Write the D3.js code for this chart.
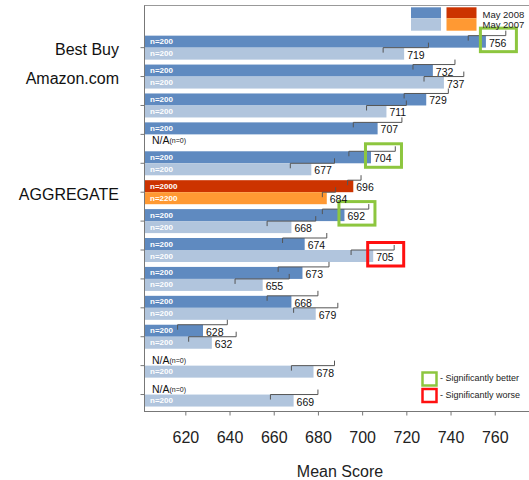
<!DOCTYPE html>
<html><head><meta charset="utf-8">
<script src="https://cdn.jsdelivr.net/npm/d3@7"></script>
<style>body{margin:0;background:#fff}svg{display:block;font-family:"Liberation Sans",Arial,sans-serif}</style>
</head><body><svg id="c" width="529" height="480"></svg>
<script>
const categories = ["Best Buy","Amazon.com","","","","AGGREGATE","","","","","","",""];
const may2008 = [756,732,729,707,704,696,692,674,673,668,628,null,null];
const may2007 = [719,737,711,null,677,684,668,705,655,679,632,678,669];
const ci2008Lo = [748,723,719,696,694,693.4,682,664,662,657,616.5,null,null];
const ci2008Hi = [765,742,739,718,715,699.5,703,684,685,680,639,null,null];
const ci2007Lo = [709.5,728,702,null,667.5,682,657,695,642.5,669,621.5,668,658.5];
const ci2007Hi = [730,746,720,null,687.5,688,679,714.5,667,689,643,687.5,680];
const n2008 = ["n=200","n=200","n=200","n=200","n=200","n=2000","n=200","n=200","n=200","n=200","n=200","n=0","n=0"];
const n2007 = ["n=200","n=200","n=200","n=0","n=200","n=2200","n=200","n=200","n=200","n=200","n=200","n=200","n=200"];
const sig2008 = ["better","","","","better","","better","","","","","",""];
const sig2007 = ["","","","","","","","worse","","","","",""];
const xTicks = [620,640,660,680,700,720,740,760];
const legendLabels = ["May 2008","May 2007"];
const sigLegend = [["better","- Significantly better"],["worse","- Significantly worse"]];

const colDark="#5f8ac0", colLight="#b1c5dd", colRed="#cc3300", colOrange="#ff9933";
const sigCol={better:"#8dc63f", worse:"#ff1010"};
const svg=d3.select("#c");
const x=d3.scaleLinear().domain([601.3,775.5]).range([144,529]);
const y=d3.scaleBand().domain(d3.range(categories.length)).range([33.2,409]);
const cy=i=>y(i)+y.bandwidth()/2;
const bh=12;
const isAgg=i=>categories[i]==="AGGREGATE";

// frame
svg.append("line").attr("x1",144).attr("x2",529).attr("y1",5.5).attr("y2",5.5).attr("stroke","#999");
const xAxis=svg.append("g").attr("transform","translate(0,411.5)")
  .call(d3.axisBottom(x).tickValues(xTicks).tickSize(4).tickPadding(16));
xAxis.select(".domain").attr("stroke","#777").attr("d","M144,0H529");
xAxis.selectAll(".tick line").attr("stroke","#777");
xAxis.selectAll(".tick text").attr("font-size",16).attr("fill","#222").attr("font-family","Liberation Sans, Arial, sans-serif");
const yAxis=svg.append("g").attr("transform","translate(144.5,0)")
  .call(d3.axisLeft(y).tickSize(4).tickFormat(""));
yAxis.select(".domain").attr("stroke","#777").attr("d","M0,5.5V411.5");
yAxis.selectAll(".tick line").attr("stroke","#777");

// category labels
svg.append("g").selectAll("text").data(categories).join("text")
  .attr("x",119).attr("y",(d,i)=>cy(i)+2).attr("text-anchor","end")
  .attr("dominant-baseline","central").attr("font-size",16).attr("fill","#111").text(d=>d);

const rows=[];
categories.forEach((c,i)=>{
  rows.push({i,v:may2008[i],lo:ci2008Lo[i],hi:ci2008Hi[i],n:n2008[i],sig:sig2008[i],top:cy(i)-bh,col:isAgg(i)?colRed:colDark});
  rows.push({i,v:may2007[i],lo:ci2007Lo[i],hi:ci2007Hi[i],n:n2007[i],sig:sig2007[i],top:cy(i),col:isAgg(i)?colOrange:colLight});
});
const present=rows.filter(r=>r.v!=null), missing=rows.filter(r=>r.v==null);

svg.append("g").selectAll("rect").data(present).join("rect")
  .attr("x",x.range()[0]+1).attr("y",r=>r.top).attr("width",r=>x(r.v)-x.range()[0]-1).attr("height",bh).attr("fill",r=>r.col);
svg.append("g").selectAll("text").data(present).join("text")
  .attr("x",150).attr("y",r=>r.top+bh/2).attr("dominant-baseline","central")
  .attr("font-size",8).attr("font-weight","bold").attr("fill","#fff").text(r=>r.n);
// error brackets
svg.append("g").selectAll("path").data(present).join("path")
  .attr("d",r=>`M${x(r.lo)},${r.top+5}V${r.top}H${x(r.hi)}V${r.top-5}`)
  .attr("fill","none").attr("stroke","#555").attr("stroke-width",1);
// significance boxes
const sigRows=present.filter(r=>r.sig);
svg.append("g").selectAll("rect").data(sigRows).join("rect")
  .attr("x",r=>x(r.v)+1).attr("y",r=>r.top+1).attr("width",27).attr("height",bh-1).attr("fill","#fff");
svg.append("g").selectAll("rect").data(sigRows).join("rect")
  .attr("x",r=>x(r.v)-5.5).attr("y",r=>r.top+bh/2-13.5).attr("width",36).attr("height",23.5)
  .attr("fill","none").attr("stroke",r=>sigCol[r.sig]).attr("stroke-width",3);
// value labels
svg.append("g").selectAll("text").data(present).join("text")
  .attr("x",r=>x(r.v)+3).attr("y",r=>r.top+bh/2+1).attr("dominant-baseline","central")
  .attr("font-size",10.5).attr("fill","#111").text(r=>r.v);
// N/A labels
const na=svg.append("g").selectAll("text").data(missing).join("text")
  .attr("x",152).attr("y",r=>r.top+bh/2).attr("dominant-baseline","central").attr("fill","#111");
na.append("tspan").attr("font-size",10.5).text("N/A");
na.append("tspan").attr("font-size",7).text(r=>"("+r.n+")");

// legend top
const lg=[[colDark,colLight],[colRed,colOrange]];
lg.forEach((p,k)=>{
  svg.append("rect").attr("x",411+k*35.5).attr("y",7.3).attr("width",30).attr("height",11).attr("fill",p[0]);
  svg.append("rect").attr("x",411+k*35.5).attr("y",18.3).attr("width",30).attr("height",12.4).attr("fill",p[1]);
});
svg.append("g").selectAll("text").data(legendLabels).join("text")
  .attr("x",482.5).attr("y",(d,i)=>17.5+i*10.5).attr("font-size",9.5).attr("fill","#222").text(d=>d);

// significance legend
sigLegend.forEach((s,k)=>{
  svg.append("rect").attr("x",422.5).attr("y",372.5+k*16.5).attr("width",14).attr("height",13)
    .attr("fill","#fff").attr("stroke",sigCol[s[0]]).attr("stroke-width",2.5);
  svg.append("text").attr("x",440).attr("y",378+k*17).attr("dominant-baseline","central")
    .attr("font-size",9).attr("fill","#222").text(s[1]);
});

// axis title
svg.append("text").attr("x",340).attr("y",477).attr("text-anchor","middle").attr("font-size",16).attr("fill","#222").text("Mean Score");
</script></body></html>
